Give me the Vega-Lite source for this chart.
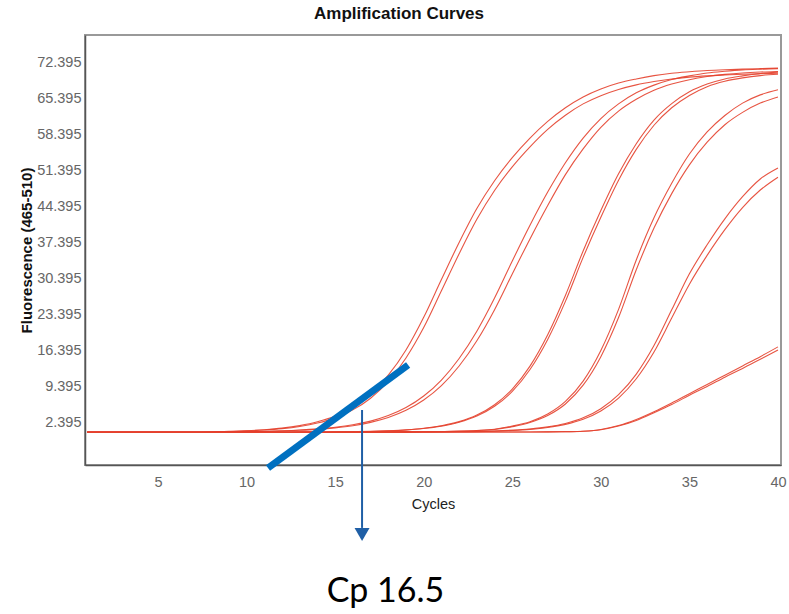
{
  "$schema": "https://vega.github.io/schema/vega-lite/v6.json",
  "width": 696,
  "height": 430,
  "autosize": {"type": "none"},
  "padding": {"left": 85, "top": 35, "right": 8, "bottom": 149},
  "background": "white",
  "title": {
    "text": "Amplification Curves",
    "fontSize": 17,
    "fontWeight": "bold",
    "font": "Liberation Sans",
    "color": "#111",
    "anchor": "middle",
    "frame": "group",
    "dx": -34,
    "offset": -5,
    "baseline": "bottom"
  },
  "config": {
    "view": {"stroke": "#999", "strokeWidth": 2},
    "axis": {"grid": false, "ticks": false, "labelFont": "Liberation Sans", "titleFont": "Liberation Sans"}
  },
  "layer": [
    {
      "data": {"values": [
        {"c":1,"A1":0.4,"A2":0.4,"B1":0.4,"B2":0.4,"C1":0.4,"C2":0.4,"D1":0.4,"D2":0.4,"E1":0.4,"E2":0.4,"F1":0.4,"F2":0.4},
        {"c":2,"A1":0.4,"A2":0.4,"B1":0.4,"B2":0.4,"C1":0.4,"C2":0.4,"D1":0.4,"D2":0.4,"E1":0.4,"E2":0.4,"F1":0.4,"F2":0.4},
        {"c":3,"A1":0.4,"A2":0.4,"B1":0.4,"B2":0.4,"C1":0.4,"C2":0.4,"D1":0.4,"D2":0.4,"E1":0.4,"E2":0.4,"F1":0.4,"F2":0.4},
        {"c":4,"A1":0.4,"A2":0.4,"B1":0.4,"B2":0.4,"C1":0.4,"C2":0.4,"D1":0.4,"D2":0.4,"E1":0.4,"E2":0.4,"F1":0.4,"F2":0.4},
        {"c":5,"A1":0.4,"A2":0.4,"B1":0.4,"B2":0.4,"C1":0.4,"C2":0.4,"D1":0.4,"D2":0.4,"E1":0.4,"E2":0.4,"F1":0.4,"F2":0.4},
        {"c":6,"A1":0.4,"A2":0.4,"B1":0.4,"B2":0.4,"C1":0.4,"C2":0.4,"D1":0.4,"D2":0.4,"E1":0.4,"E2":0.4,"F1":0.4,"F2":0.4},
        {"c":7,"A1":0.4,"A2":0.4,"B1":0.4,"B2":0.4,"C1":0.4,"C2":0.4,"D1":0.4,"D2":0.4,"E1":0.4,"E2":0.4,"F1":0.4,"F2":0.4},
        {"c":8,"A1":0.45,"A2":0.44,"B1":0.4,"B2":0.4,"C1":0.4,"C2":0.4,"D1":0.4,"D2":0.4,"E1":0.4,"E2":0.4,"F1":0.4,"F2":0.4},
        {"c":9,"A1":0.57,"A2":0.54,"B1":0.45,"B2":0.44,"C1":0.4,"C2":0.4,"D1":0.4,"D2":0.4,"E1":0.4,"E2":0.4,"F1":0.4,"F2":0.4},
        {"c":10,"A1":0.7,"A2":0.66,"B1":0.5,"B2":0.48,"C1":0.4,"C2":0.4,"D1":0.4,"D2":0.4,"E1":0.4,"E2":0.4,"F1":0.4,"F2":0.4},
        {"c":11,"A1":0.9,"A2":0.83,"B1":0.58,"B2":0.55,"C1":0.4,"C2":0.4,"D1":0.4,"D2":0.4,"E1":0.4,"E2":0.4,"F1":0.4,"F2":0.4},
        {"c":12,"A1":1.2,"A2":1.1,"B1":0.68,"B2":0.65,"C1":0.41,"C2":0.41,"D1":0.4,"D2":0.4,"E1":0.4,"E2":0.4,"F1":0.4,"F2":0.4},
        {"c":13,"A1":1.69,"A2":1.53,"B1":0.83,"B2":0.78,"C1":0.42,"C2":0.42,"D1":0.4,"D2":0.4,"E1":0.4,"E2":0.4,"F1":0.4,"F2":0.4},
        {"c":14,"A1":2.43,"A2":2.19,"B1":1.05,"B2":0.97,"C1":0.44,"C2":0.43,"D1":0.41,"D2":0.41,"E1":0.4,"E2":0.4,"F1":0.4,"F2":0.4},
        {"c":15,"A1":3.56,"A2":3.2,"B1":1.37,"B2":1.26,"C1":0.46,"C2":0.45,"D1":0.42,"D2":0.42,"E1":0.41,"E2":0.41,"F1":0.4,"F2":0.4},
        {"c":16,"A1":5.31,"A2":4.75,"B1":1.85,"B2":1.68,"C1":0.51,"C2":0.5,"D1":0.43,"D2":0.43,"E1":0.42,"E2":0.42,"F1":0.41,"F2":0.41},
        {"c":17,"A1":7.85,"A2":7.02,"B1":2.57,"B2":2.32,"C1":0.57,"C2":0.56,"D1":0.44,"D2":0.44,"E1":0.43,"E2":0.43,"F1":0.42,"F2":0.42},
        {"c":18,"A1":11.5,"A2":10.3,"B1":3.65,"B2":3.27,"C1":0.69,"C2":0.67,"D1":0.46,"D2":0.46,"E1":0.44,"E2":0.44,"F1":0.43,"F2":0.43},
        {"c":19,"A1":16.4,"A2":14.85,"B1":5.2,"B2":4.66,"C1":0.87,"C2":0.84,"D1":0.48,"D2":0.48,"E1":0.44,"E2":0.44,"F1":0.43,"F2":0.43},
        {"c":20,"A1":22.75,"A2":20.75,"B1":7.45,"B2":6.66,"C1":1.17,"C2":1.13,"D1":0.5,"D2":0.5,"E1":0.45,"E2":0.45,"F1":0.44,"F2":0.44},
        {"c":21,"A1":30.1,"A2":27.9,"B1":10.55,"B2":9.46,"C1":1.67,"C2":1.6,"D1":0.55,"D2":0.54,"E1":0.47,"E2":0.46,"F1":0.44,"F2":0.44},
        {"c":22,"A1":37.3,"A2":35.1,"B1":14.75,"B2":13.28,"C1":2.47,"C2":2.35,"D1":0.62,"D2":0.6,"E1":0.5,"E2":0.49,"F1":0.45,"F2":0.45},
        {"c":23,"A1":43.9,"A2":41.8,"B1":20.05,"B2":18.19,"C1":3.74,"C2":3.55,"D1":0.75,"D2":0.72,"E1":0.55,"E2":0.53,"F1":0.45,"F2":0.45},
        {"c":24,"A1":49.3,"A2":47.4,"B1":26.5,"B2":24.24,"C1":5.75,"C2":5.45,"D1":1.0,"D2":0.95,"E1":0.65,"E2":0.62,"F1":0.45,"F2":0.45},
        {"c":25,"A1":53.8,"A2":52.0,"B1":33.7,"B2":31.18,"C1":8.8,"C2":8.35,"D1":1.6,"D2":1.48,"E1":0.8,"E2":0.76,"F1":0.45,"F2":0.45},
        {"c":26,"A1":57.6,"A2":55.9,"B1":40.65,"B2":38.0,"C1":13.26,"C2":12.6,"D1":2.45,"D2":2.28,"E1":1.04,"E2":0.97,"F1":0.46,"F2":0.46},
        {"c":27,"A1":60.85,"A2":59.3,"B1":47.1,"B2":44.5,"C1":19.36,"C2":18.45,"D1":3.95,"D2":3.65,"E1":1.44,"E2":1.33,"F1":0.48,"F2":0.47},
        {"c":28,"A1":63.5,"A2":62.05,"B1":52.8,"B2":50.5,"C1":27.0,"C2":25.85,"D1":6.4,"D2":5.9,"E1":2.1,"E2":1.93,"F1":0.52,"F2":0.5},
        {"c":29,"A1":65.6,"A2":64.25,"B1":57.6,"B2":55.5,"C1":35.65,"C2":34.4,"D1":10.35,"D2":9.55,"E1":3.2,"E2":2.93,"F1":0.6,"F2":0.6},
        {"c":30,"A1":67.15,"A2":65.85,"B1":61.4,"B2":59.7,"C1":43.5,"C2":42.2,"D1":16.3,"D2":15.1,"E1":4.98,"E2":4.55,"F1":0.95,"F2":0.9},
        {"c":31,"A1":68.3,"A2":67.05,"B1":64.25,"B2":62.85,"C1":50.65,"C2":49.4,"D1":24.3,"D2":22.7,"E1":7.7,"E2":7.05,"F1":1.7,"F2":1.6},
        {"c":32,"A1":69.1,"A2":67.95,"B1":66.4,"B2":65.15,"C1":56.5,"C2":55.4,"D1":33.9,"D2":32.0,"E1":11.7,"E2":10.8,"F1":2.9,"F2":2.7},
        {"c":33,"A1":69.75,"A2":68.6,"B1":67.9,"B2":66.9,"C1":61.1,"C2":60.1,"D1":42.1,"D2":40.1,"E1":17.25,"E2":16.0,"F1":4.4,"F2":4.2},
        {"c":34,"A1":70.2,"A2":69.1,"B1":69.0,"B2":68.1,"C1":64.3,"C2":63.5,"D1":48.8,"D2":46.8,"E1":24.2,"E2":22.6,"F1":6.1,"F2":5.8},
        {"c":35,"A1":70.5,"A2":69.45,"B1":69.7,"B2":68.95,"C1":66.6,"C2":65.9,"D1":54.5,"D2":52.4,"E1":31.2,"E2":29.2,"F1":7.9,"F2":7.6},
        {"c":36,"A1":70.75,"A2":69.7,"B1":70.26,"B2":69.56,"C1":68.1,"C2":67.6,"D1":58.8,"D2":56.8,"E1":36.85,"E2":34.8,"F1":9.7,"F2":9.3},
        {"c":37,"A1":70.9,"A2":69.9,"B1":70.6,"B2":69.98,"C1":69.1,"C2":68.65,"D1":62.0,"D2":60.2,"E1":41.9,"E2":39.8,"F1":11.5,"F2":11.1},
        {"c":38,"A1":71.0,"A2":70.0,"B1":70.86,"B2":70.27,"C1":69.7,"C2":69.3,"D1":64.4,"D2":62.6,"E1":46.2,"E2":44.1,"F1":13.3,"F2":12.8},
        {"c":39,"A1":71.1,"A2":70.1,"B1":71.0,"B2":70.45,"C1":70.16,"C2":69.75,"D1":66.0,"D2":64.4,"E1":49.65,"E2":47.5,"F1":15.1,"F2":14.6},
        {"c":40,"A1":71.2,"A2":70.2,"B1":71.1,"B2":70.56,"C1":70.43,"C2":70.0,"D1":67.0,"D2":65.6,"E1":51.8,"E2":50.0,"F1":17.0,"F2":16.4}
      ]},
      "transform": [{"fold": ["A1","A2","B1","B2","C1","C2","D1","D2","E1","E2","F1","F2"], "as": ["curve", "f"]}],
      "mark": {"type": "line", "color": "#e4412e", "strokeWidth": 1.1, "opacity": 0.9, "interpolate": "monotone"},
      "encoding": {
        "x": {"field": "c", "type": "quantitative",
              "scale": {"domain": [0.88, 40.17], "nice": false, "zero": false},
              "axis": {"values": [5,10,15,20,25,30,35,40], "title": "Cycles", "labelColor": "#666", "labelFontSize": 14.5, "labelPadding": 10,
                       "domain": true, "domainColor": "#555", "domainWidth": 1.5,
                       "titleFontSize": 14.5, "titleFontWeight": "normal", "titleColor": "#222", "titlePadding": 9}},
        "y": {"field": "f", "type": "quantitative",
              "scale": {"domain": [-5.966, 77.645], "nice": false, "zero": false},
              "axis": {"values": [2.395,9.395,16.395,23.395,30.395,37.395,44.395,51.395,58.395,65.395,72.395], "format": ".3f",
                       "title": "Fluorescence (465-510)", "labelColor": "#666", "labelFontSize": 14.5, "labelPadding": 4,
                       "domain": true, "domainColor": "#555", "domainWidth": 1.5,
                       "titleFontSize": 15, "titleFontWeight": "bold", "titleColor": "#111",
                       "titleX": -59, "titleY": 215, "titleAngle": -90, "titleAlign": "center", "titleBaseline": "middle"}},
        "detail": {"field": "curve", "type": "nominal"}
      }
    },
    {
      "data": {"values": [{"c": 11.21, "f": -6.55}, {"c": 19.12, "f": 13.48}]},
      "mark": {"type": "line", "color": "#0070C0", "strokeWidth": 7, "strokeCap": "butt"},
      "encoding": {
        "x": {"field": "c", "type": "quantitative", "title": "Cycles"},
        "y": {"field": "f", "type": "quantitative", "title": "Fluorescence (465-510)"}
      }
    },
    {
      "data": {"values": [{"c": 16.52, "f": 4.73, "f2": -18.2}]},
      "mark": {"type": "rule", "color": "#1F5FA6", "strokeWidth": 2},
      "encoding": {
        "x": {"field": "c", "type": "quantitative", "title": "Cycles"},
        "y": {"field": "f", "type": "quantitative", "title": "Fluorescence (465-510)"},
        "y2": {"field": "f2"}
      }
    },
    {
      "data": {"values": [{"c": 16.52, "f": -19.48}]},
      "mark": {"type": "point", "shape": "triangle-down", "filled": true, "size": 225, "color": "#1F5FA6", "opacity": 1},
      "encoding": {
        "x": {"field": "c", "type": "quantitative", "title": "Cycles"},
        "y": {"field": "f", "type": "quantitative", "title": "Fluorescence (465-510)"}
      }
    },
    {
      "data": {"values": [{"c": 17.84, "f": -32.6, "label": "Cp 16.5"}]},
      "mark": {"type": "text", "font": "Lato", "fontSize": 34, "align": "center", "baseline": "alphabetic", "color": "#000"},
      "encoding": {
        "x": {"field": "c", "type": "quantitative", "title": "Cycles"},
        "y": {"field": "f", "type": "quantitative", "title": "Fluorescence (465-510)"},
        "text": {"field": "label"}
      }
    }
  ]
}
